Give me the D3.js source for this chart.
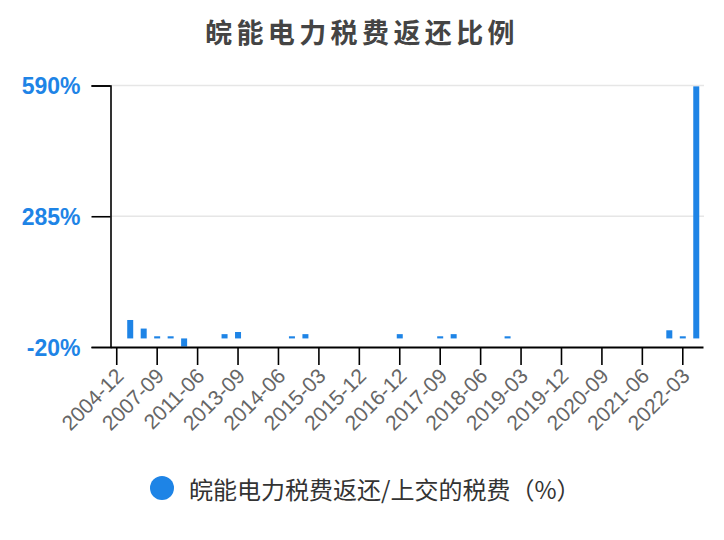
<!DOCTYPE html>
<html>
<head>
<meta charset="utf-8">
<script src="https://cdn.jsdelivr.net/npm/d3@7"></script>
<style>
  html, body { margin: 0; padding: 0; background: #fff; }
  svg { display: block; }
</style>
</head>
<body>
<svg id="chart" width="724" height="540"></svg>
<script>
// Reporting periods along the x axis
const periods = [
  "2004-12", "2005-12", "2006-12", "2007-09", "2008-12", "2010-12", "2011-06",
  "2012-06", "2012-12", "2013-09", "2013-12", "2014-03", "2014-06", "2014-09",
  "2014-12", "2015-03", "2015-06", "2015-09", "2015-12", "2016-03", "2016-06",
  "2016-12", "2017-03", "2017-06", "2017-09", "2017-12", "2018-03", "2018-06",
  "2018-09", "2018-12", "2019-03", "2019-06", "2019-09", "2019-12", "2020-03",
  "2020-06", "2020-09", "2020-12", "2021-03", "2021-06", "2021-09", "2021-12",
  "2022-03", "2022-06"
];

// Tax refund as a share of taxes paid (%), null where nothing was reported
const refundRatio = [
  null, 43, 23, 5, 5, -19, null,
  null, 10, 15, null, null, null, 5,
  10, null, null, null, null, null, null,
  10, null, null, 5, 10, null, null,
  null, 5, null, null, null, null, null,
  null, null, null, null, null, null, 19,
  5, 588
];

// Labelled periods and value ticks
const xTickLabels = [
  "2004-12", "2007-09", "2011-06", "2013-09", "2014-06", "2015-03", "2015-12",
  "2016-12", "2017-09", "2018-06", "2019-03", "2019-12", "2020-09", "2021-06", "2022-03"
];
const yTicks = [-20, 285, 590];

const titleText = "皖能电力税费返还比例";
const seriesName = "皖能电力税费返还/上交的税费（%）";

const svg = d3.select("#chart");
const blue = "#1e84e6";

const x = d3.scaleBand()
  .domain(periods)
  .range([110, 703])
  .paddingInner(0.555)
  .paddingOuter(0.2775);

const y = d3.scaleLinear()
  .domain([-20, 590])
  .range([347, 85.5]);

// Title
svg.append("text")
  .attr("x", 362)
  .attr("y", 31)
  .attr("text-anchor", "middle")
  .attr("dominant-baseline", "central")
  .attr("font-family", "'Noto Sans CJK SC', sans-serif")
  .attr("font-weight", "bold")
  .attr("font-size", 27)
  .attr("letter-spacing", 4.4)
  .attr("fill", "#444")
  .text(titleText);

// Horizontal grid lines
svg.append("g")
  .selectAll("line")
  .data(yTicks.filter(d => d !== -20))
  .join("line")
  .attr("x1", 111)
  .attr("x2", 704)
  .attr("y1", d => y(d))
  .attr("y2", d => y(d))
  .attr("stroke", "#e6e6e6")
  .attr("stroke-width", 1.5);

// Bars
svg.append("g")
  .selectAll("rect")
  .data(periods.map((p, i) => ({ p, v: refundRatio[i] })).filter(d => d.v !== null))
  .join("rect")
  .attr("x", d => x(d.p))
  .attr("width", x.bandwidth())
  .attr("y", d => y(Math.max(0, d.v)))
  .attr("height", d => Math.abs(y(d.v) - y(0)))
  .attr("fill", blue);

// Y axis
const yAxis = svg.append("g")
  .attr("transform", "translate(110.5,0)")
  .call(d3.axisLeft(y).tickValues(yTicks).tickSize(19).tickPadding(11).tickFormat(d => d + "%"));
yAxis.select(".domain").attr("stroke", "#000").attr("stroke-width", 1.6);
yAxis.selectAll(".tick line").attr("stroke", "#000").attr("stroke-width", 1.6);
yAxis.selectAll(".tick text")
  .attr("fill", blue)
  .attr("font-family", "'Liberation Sans', Arial, sans-serif")
  .attr("font-weight", "bold")
  .attr("font-size", 23)
  .attr("dy", "0.36em");

// X axis
const xAxis = svg.append("g")
  .attr("transform", "translate(0,347)")
  .call(d3.axisBottom(x).tickValues(xTickLabels).tickSize(18).tickSizeOuter(0).tickPadding(6));
xAxis.select(".domain").attr("stroke", "#000").attr("stroke-width", 1.8);
xAxis.selectAll(".tick line").attr("stroke", "#000").attr("stroke-width", 1.6);
xAxis.selectAll(".tick text")
  .attr("fill", "#666")
  .attr("font-family", "'Liberation Sans', Arial, sans-serif")
  .attr("font-size", 21)
  .attr("text-anchor", "end")
  .attr("transform", "translate(3,25) rotate(-45)")
  .attr("dy", "0.35em")
  .attr("y", 0);

// Legend
const legend = svg.append("g");
legend.append("circle")
  .attr("cx", 162)
  .attr("cy", 488)
  .attr("r", 12)
  .attr("fill", blue);
legend.append("text")
  .attr("x", 189)
  .attr("y", 488)
  .attr("dominant-baseline", "central")
  .attr("font-family", "'Noto Sans CJK SC', sans-serif")
  .attr("font-size", 24)
  .attr("fill", "#333")
  .text(seriesName);
</script>
</body>
</html>
